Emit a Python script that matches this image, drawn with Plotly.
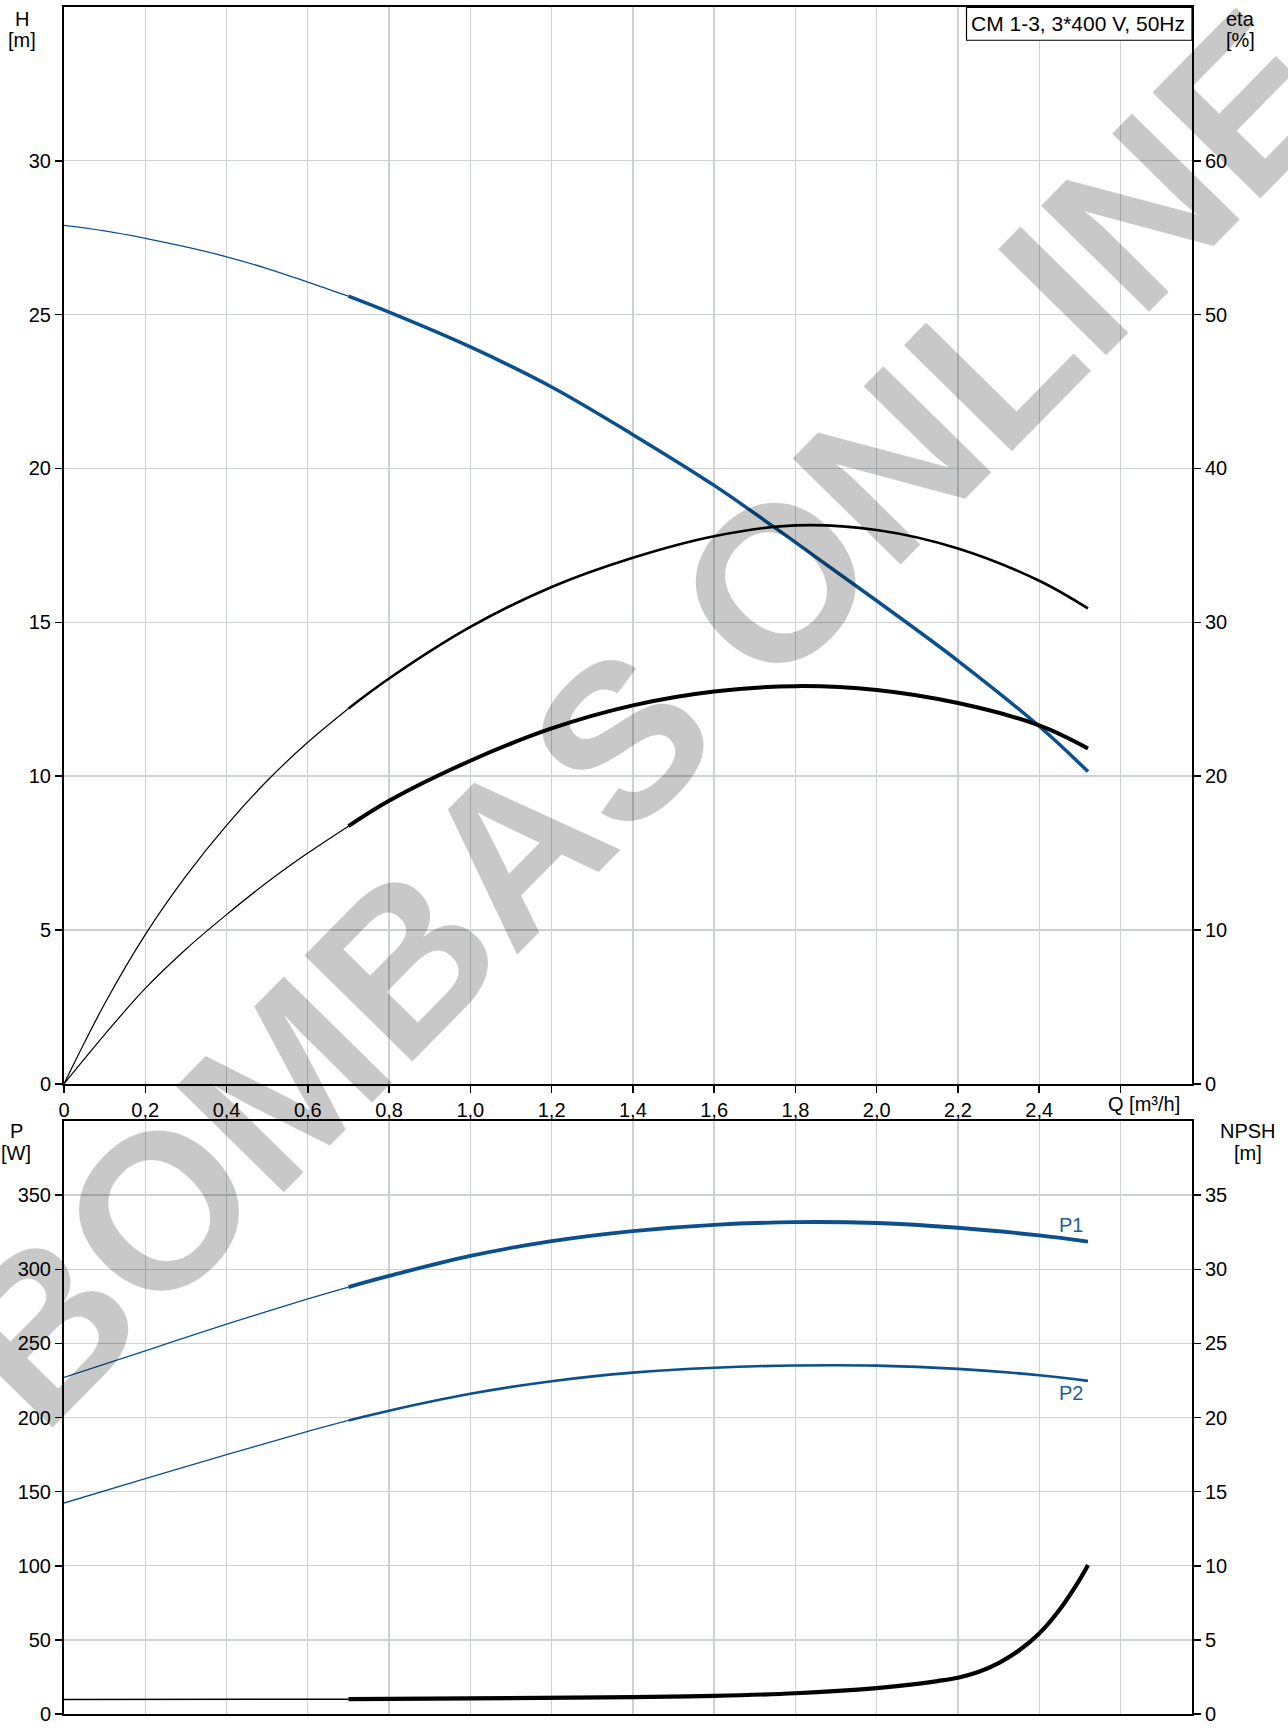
import plotly.graph_objects as go

# ---------------- data ----------------
q_top = [0, 0.1, 0.2, 0.3, 0.4, 0.5, 0.6, 0.7, 0.8, 1.0, 1.2, 1.4, 1.6, 1.8, 2.0, 2.2, 2.4, 2.52]
head_m = [27.9, 27.72, 27.48, 27.2, 26.88, 26.5, 26.06, 25.6, 25.08, 23.95, 22.65, 21.1, 19.45, 17.6, 15.7, 13.75, 11.62, 10.15]
eta_pump = [0, 5.2, 9.7, 13.5, 16.8, 19.7, 22.2, 24.4, 26.35, 29.7, 32.3, 34.2, 35.6, 36.3, 36.0, 34.8, 32.7, 30.9]
eta_total = [0, 3.2, 6.2, 8.75, 11.0, 13.1, 15.0, 16.75, 18.4, 21.0, 23.1, 24.6, 25.5, 25.85, 25.6, 24.75, 23.3, 21.8]

q_pow = [0, 0.2, 0.4, 0.6, 0.7, 0.8, 1.0, 1.2, 1.4, 1.6, 1.8, 2.0, 2.2, 2.4, 2.52]
p1_w = [227, 245, 263, 280, 288, 295.5, 309, 319, 325.8, 330, 331.8, 331.2, 328, 322.8, 318.7]
p2_w = [142.3, 158.8, 175, 190.6, 198, 204.6, 216, 224.5, 230.3, 233.6, 235.1, 235, 232.8, 228.5, 224.7]

q_npsh = [0, 0.7, 1.0, 1.4, 1.6, 1.8, 2.0, 2.1, 2.15, 2.2, 2.25, 2.3, 2.35, 2.4, 2.45, 2.5, 2.52]
npsh_m = [0.98, 1.0, 1.05, 1.14, 1.22, 1.4, 1.75, 2.03, 2.22, 2.45, 2.83, 3.43, 4.28, 5.43, 7.03, 9.08, 10.05]

x_tick_vals = [0, 0.2, 0.4, 0.6, 0.8, 1.0, 1.2, 1.4, 1.6, 1.8, 2.0, 2.2, 2.4, 2.6]
x_tick_text = ["0", "0,2", "0,4", "0,6", "0,8", "1,0", "1,2", "1,4", "1,6", "1,8", "2,0", "2,2", "2,4", ""]
h_ticks = [0, 5, 10, 15, 20, 25, 30]
eta_ticks = [0, 10, 20, 30, 40, 50, 60]
p_ticks = [0, 50, 100, 150, 200, 250, 300, 350]
npsh_ticks = [0, 5, 10, 15, 20, 25, 30, 35]

title_text = "CM 1-3, 3*400 V, 50Hz"
watermark_text = "BOMBAS ONLINE"
split_q = 0.7

# ---------------- layout geometry ----------------
W, H = 1288, 1730
ML, MR, MT, MB = 64, 96, 5, 5
PW, PH = W - ML - MR, H - MT - MB


def px(x):
    return (x - ML) / PW


def py(y):
    return (H - MB - y) / PH


BLUE = "#0b4f8c"
LBLUE = "#1d5e9e"
GRID = "#cdd1d5"
FONT = "Liberation Sans, Arial, sans-serif"

fig = go.Figure()


def add_split(q, v, xa, ya, color, w_thin, w_thick):
    k = q.index(split_q)
    fig.add_trace(go.Scatter(x=q[:k + 1], y=v[:k + 1], xaxis=xa, yaxis=ya, mode="lines",
                             line=dict(color=color, width=w_thin, shape="spline", smoothing=1.0),
                             showlegend=False, hoverinfo="skip"))
    fig.add_trace(go.Scatter(x=q[k:], y=v[k:], xaxis=xa, yaxis=ya, mode="lines",
                             line=dict(color=color, width=w_thick, shape="spline", smoothing=1.0),
                             showlegend=False, hoverinfo="skip"))


add_split(q_top, head_m, "x", "y", BLUE, 1.3, 3.5)
add_split(q_top, eta_pump, "x", "y2", "black", 1.2, 2.6)
add_split(q_top, eta_total, "x", "y2", "black", 1.2, 4.0)
add_split(q_pow, p1_w, "x2", "y3", BLUE, 1.3, 3.8)
add_split(q_pow, p2_w, "x2", "y3", BLUE, 1.3, 2.6)
add_split(q_npsh, npsh_m, "x2", "y4", "black", 1.5, 4.2)

top_dom = [py(1090), 1.0]
bot_dom = [0.0, py(1127.5)]
xr = [0, 2.776]

axis_common = dict(showline=True, linecolor="black", linewidth=2, ticks="outside",
                   ticklen=7, tickwidth=1.5, tickcolor="black", zeroline=False,
                   tickfont=dict(family=FONT, size=20, color="black"))

fig.update_layout(
    width=W, height=H,
    margin=dict(l=ML, r=MR, t=MT, b=MB),
    paper_bgcolor="white", plot_bgcolor="rgba(0,0,0,0)",
    font=dict(family=FONT, size=20, color="black"),
    xaxis=dict(domain=[0, 1], range=xr, anchor="y", tickvals=x_tick_vals, ticktext=x_tick_text,
               showgrid=True, gridcolor=GRID, gridwidth=1.3, mirror=True, **axis_common),
    yaxis=dict(domain=top_dom, range=[0, 35], anchor="x", tickvals=h_ticks,
               showgrid=True, gridcolor=GRID, gridwidth=1.3, mirror=True, **axis_common),
    yaxis2=dict(range=[0, 70], overlaying="y", side="right", anchor="x", tickvals=eta_ticks,
                showgrid=False, **axis_common),
    xaxis2=dict(domain=[0, 1], range=xr, anchor="y3", tickvals=x_tick_vals, showticklabels=False,
                showgrid=True, gridcolor=GRID, gridwidth=1.3, mirror=True,
                showline=True, linecolor="black", linewidth=2, zeroline=False, ticks=""),
    yaxis3=dict(domain=bot_dom, range=[0, 400], anchor="x2", tickvals=p_ticks,
                showgrid=True, gridcolor=GRID, gridwidth=1.3, mirror=True, **axis_common),
    yaxis4=dict(range=[0, 40], overlaying="y3", side="right", anchor="x2", tickvals=npsh_ticks,
                showgrid=False, **axis_common),
)

ann = []


def label(text, x, y, color="black", size=20, xanchor="center"):
    ann.append(dict(text=text, x=px(x), y=py(y), xref="paper", yref="paper", showarrow=False,
                    xanchor=xanchor, yanchor="middle", font=dict(family=FONT, size=size, color=color)))


label("H", 22, 17)
label("[m]", 22, 38)
label("eta", 1240, 17)
label("[%]", 1240, 38)
label("P", 16, 1138)
label("[W]", 16, 1160)
label("NPSH", 1248, 1138)
label("[m]", 1248, 1160)
label("Q [m³/h]", 1144, 1110)
label("P1", 1071, 1232, color=LBLUE)
label("P2", 1071, 1402, color=LBLUE)
label(title_text, 1078, 22, size=21)

ann.append(dict(text=watermark_text, x=px(643), y=py(721), xref="paper", yref="paper",
                showarrow=False, xanchor="center", yanchor="middle", textangle=-45.5,
                font=dict(family=FONT, size=220, color="rgba(0,0,0,0.215)", weight="bold")))

fig.update_layout(annotations=ann)

fig.add_shape(type="rect", xref="paper", yref="paper",
              x0=px(966.5), x1=px(1192), y0=py(38.5), y1=py(5.5),
              line=dict(color="black", width=1.2), fillcolor="white", layer="above")

fig.write_html("out.html", config={"displayModeBar": False, "staticPlot": True},
               post_script="document.body.style.margin='0';document.body.style.padding='0';")
